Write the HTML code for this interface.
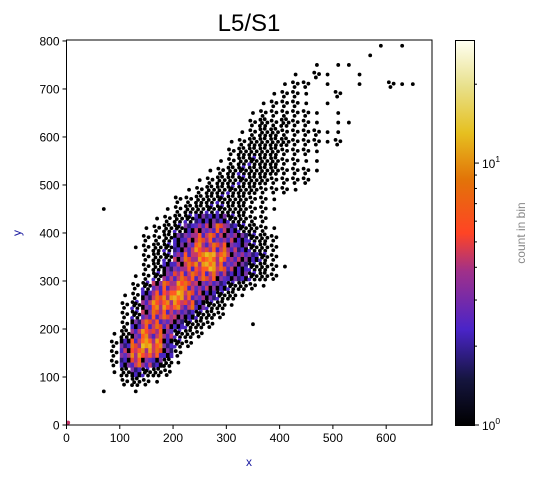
<!DOCTYPE html>
<html><head><meta charset="utf-8">
<style>
html,body{margin:0;padding:0;background:#fff;}
svg{display:block;font-family:"Liberation Sans","DejaVu Sans",sans-serif;}
</style></head>
<body>
<svg id="chart" width="538" height="478" viewBox="0 0 538 478" xmlns="http://www.w3.org/2000/svg">
  <text x="249" y="31" font-size="24" text-anchor="middle">L5/S1</text>
  <g id="cells"></g>
  <g id="axes"></g>
  <text x="249" y="466" font-size="12" fill="#1a1aa0" text-anchor="middle">x</text>
  <text x="0" y="0" font-size="12" fill="#1a1aa0" text-anchor="middle" transform="translate(21,233) rotate(-90)">y</text>
  <defs>
    <linearGradient id="cmap" x1="0" y1="1" x2="0" y2="0">
      <stop offset="0" stop-color="#000000"/>
      <stop offset="0.12" stop-color="#15153f"/>
      <stop offset="0.25" stop-color="#4a24c8"/>
      <stop offset="0.40" stop-color="#a0308a"/>
      <stop offset="0.50" stop-color="#ff4424"/>
      <stop offset="0.64" stop-color="#e27408"/>
      <stop offset="0.76" stop-color="#e6c020"/>
      <stop offset="0.88" stop-color="#e8e08a"/>
      <stop offset="1" stop-color="#fffff2"/>
    </linearGradient>
  </defs>
  <rect x="455.5" y="40.5" width="19" height="385" fill="url(#cmap)" stroke="#000" stroke-width="1"/>
  <g id="cbar"></g>
  <text x="0" y="0" font-size="12" fill="#888" text-anchor="middle" transform="translate(525,233) rotate(-90)">count in bin</text>
</svg>
<script>
// ---- data ----
const xTicks = [0,100,200,300,400,500,600];
const yTicks = [0,100,200,300,400,500,600,700,800];
const binSize = 20;          // data units per cell
const colOrigin = 60;        // x of first column
const rowTop = 800;          // y of top edge of first row
// density rows: [rowIndex, startColumn, codes]
const densityRows = [
 [0,26,". ."],[1,25,"."],[2,20,". .."],[3,18,". :.  ."],
 [4,17,".:: .  .  :.."],[5,16,".::.  :"],[6,15,".:::. ."],[7,14,".:::::. ."],
 [8,14,":#:#::. .."],[9,13,".:##::::.."],[10,12,".:####:::.:"],[11,12,":####:::."],
 [12,11,".:#a##::.."],[13,10,".:#a###:::."],[14,9,".:##a##::::"],[15,8,".:##a##:::."],
 [16,7,"::##a##::."],[17,0,".     .:##aa##::."],[18,5,".:#abbba#::"],
 [19,4,".:#abccdba#:."],[20,4,"::#bcddccba#:"],[21,3,".:#abceddcba#:"],
 [22,4,":#acdefeccba:"],[23,4,":#bcdefdcba#:."],[24,3,".:acddddcbba#:"],
 [25,3,":acdedccba#:."],[26,2,".:bdefdcba#."],[27,2,":aceeedba#."],
 [28,2,":acddcba#:"],[29,2,":bddcba#:   ."],[30,1,".#cedca#:"],
 [31,1,":bdfeba:"],[32,1,":ceedb:"],[33,1,":bdcb#."],[34,1,".#ba#:"],
 [35,2,":#:."],[36,0,".  ."]
];
const extraPointsX = [3];
const extraPointsY = [5];
const cbarMajor = [1,10];
const cbarMajorLabels = ["0","1"];
const cbarMinor = [2,3,4,5,6,7,8,9,20];

// ---- scales ----
const X0=66.5, X1=432, XMAX=686;
const Y0=425, Y1=40, YMAX=802;
const sx = v => X0 + v*(X1-X0)/XMAX;
const sy = v => Y0 - v*(Y0-Y1)/YMAX;
const CMIN=1, CMAX=29.5;
const sc = v => 425 - Math.log10(v/CMIN)/Math.log10(CMAX/CMIN)*385;

const NS="http://www.w3.org/2000/svg";
function mk(tag, attrs, parent){const e=document.createElementNS(NS,tag);for(const k in attrs)e.setAttribute(k,attrs[k]);parent.appendChild(e);return e;}

const cells=document.getElementById('cells');
const palette={
 b:["#4a26c0","#000000","#7a34a8","#2a1a70","#4a26c8","#000000"],
 c:["#a0308a","#4a26c0","#c83a68","#000000","#8a34a0","#5a2ec0"],
 d:["#e8442c","#a0308a","#ff5a20","#4a26c0","#c83a68","#e87010"],
 e:["#ff5a20","#e88a10","#a0308a","#ec9a10","#ff4a28","#c8386a"],
 f:["#e8a010","#ff5a20","#e6c020","#ec9a10","#e8b020","#ff6a20"]
};
const dotSets={
 '.':[[0.5,0.5]],
 ':':[[0.25,0.3],[0.7,0.45],[0.4,0.8]],
 '#':[[0.2,0.2],[0.6,0.15],[0.85,0.5],[0.35,0.55],[0.15,0.85],[0.65,0.85]],
 'a':[[0.2,0.2],[0.6,0.15],[0.85,0.5],[0.35,0.55],[0.15,0.85],[0.65,0.85],[0.5,0.35]]
};
densityRows.forEach(([r,c0,codes])=>{
  for(let i=0;i<codes.length;i++){
    const ch=codes[i]; if(ch===' ') continue;
    const xv=colOrigin+(c0+i)*binSize, yv=rowTop-r*binSize;
    const px=sx(xv), py=sy(yv), w=sx(xv+binSize)-px, h=sy(yv-binSize)-py;
    if(palette[ch]){
      const cols=palette[ch];
      for(let k=0;k<6;k++){
        const cx=k%3, cy=Math.floor(k/3);
        const rr=mk('rect',{x:(px+cx*w/3).toFixed(2),y:(py+cy*h/2).toFixed(2),width:(w/3+0.3).toFixed(2),height:(h/2+0.3).toFixed(2),fill:cols[(k+2*r+3*i)%6]},cells);
        
        
      }
    } else {
      dotSets[ch].forEach((d,k)=>{
        const blue = ch==='a' && (k%3===1);
        const ci=mk('circle',{cx:(px+d[0]*w).toFixed(2),cy:(py+d[1]*h).toFixed(2),r:1.9,fill:blue?"#4a26c8":"#000"},cells);
        
        
      });
    }
  }
});
extraPointsX.forEach((xv,i)=>{
  const ci=mk('circle',{cx:sx(xv),cy:sy(extraPointsY[i]),r:2,fill:"#c8386a"},cells);
  
  
});

// axes
const ax=document.getElementById('axes');
const frame=mk('rect',{x:X0,y:Y1,width:X1-X0,height:Y0-Y1,fill:"none",stroke:"#000","stroke-width":1},ax);


xTicks.forEach(t=>{
  const x=sx(t);
  const tl=mk('line',{x1:x,y1:Y0,x2:x,y2:Y0+4,stroke:"#000"},ax);
  
  
  const tx=mk('text',{x:x,y:Y0+17,"font-size":12,"text-anchor":"middle"},ax);
  tx.textContent=t;
  
  
});
yTicks.forEach(t=>{
  const y=sy(t);
  const tl=mk('line',{x1:X0-4,y1:y,x2:X0,y2:y,stroke:"#000"},ax);
  
  
  const tx=mk('text',{x:X0-7,y:y+4.5,"font-size":12,"text-anchor":"end"},ax);
  tx.textContent=t;
  
  
});
// colorbar ticks
const cb=document.getElementById('cbar');
cbarMajor.forEach((v,i)=>{
  const y=sc(v);
  const tl=mk('line',{x1:475,y1:y,x2:479,y2:y,stroke:"#000"},cb);
  
  
  const tx=mk('text',{x:482,y:y+5,"font-size":12},cb);
  tx.textContent="10";
  const sup=mk('tspan',{dy:-6,"font-size":8.5},tx);
  sup.textContent=cbarMajorLabels[i];
  
  
});
cbarMinor.forEach(v=>{
  const y=sc(v);
  const tl=mk('line',{x1:475,y1:y,x2:477,y2:y,stroke:"#000"},cb);
  
  
});
</script>
</body></html>
